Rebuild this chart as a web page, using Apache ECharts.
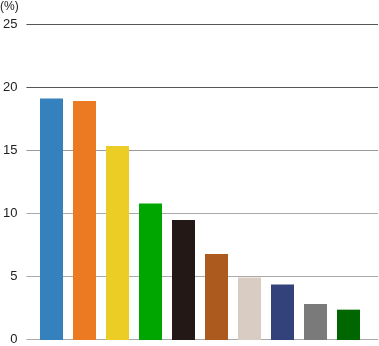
<!DOCTYPE html>
<html>
<head>
<meta charset="utf-8">
<script src="https://cdn.jsdelivr.net/npm/echarts@6/dist/echarts.min.js"></script>
<style>html,body{margin:0;padding:0;background:#fff}#c{width:379px;height:346px}</style>
</head>
<body>
<div id="c"></div>
<script>
var categories = ['1', '2', '3', '4', '5', '6', '7', '8', '9', '10'];
var values = [19.1, 18.9, 15.35, 10.8, 9.5, 6.8, 4.95, 4.4, 2.85, 2.4];
var barColors = ['#3581bd', '#ec7a22', '#ebcd26', '#00a600', '#231815', '#ad5a1e', '#d9ccc2', '#33427b', '#7a7a7a', '#006600'];
var yTicks = [0, 5, 10, 15, 20, 25];
var gridColors = ['#aaaaaa', '#aaaaaa', '#aaaaaa', '#999999', '#555555', '#555555'];

var chart = echarts.init(document.getElementById('c'), null, {renderer: 'canvas'});
chart.setOption({
  animation: false,
  graphic: [{type: 'text', left: 0, top: 1, style: {text: '(%)', font: '12px "Liberation Sans", Arial, sans-serif', fill: '#222'}}],
  grid: [
    {left: 24, right: 1, top: 24, bottom: 6},
    {left: 35, right: 14, top: 24, bottom: 6}
  ],
  xAxis: [
    {gridIndex: 0, type: 'category', data: categories, show: false},
    {gridIndex: 1, type: 'category', data: categories, show: false}
  ],
  yAxis: [
    {gridIndex: 0, type: 'value', min: yTicks[0], max: yTicks[yTicks.length - 1], interval: 5,
     axisLine: {show: false}, axisTick: {show: false},
     axisLabel: {margin: 9, color: '#222', fontSize: 13, fontFamily: '"Liberation Sans", Arial, sans-serif'},
     splitLine: {lineStyle: {color: gridColors, width: 1}}},
    {gridIndex: 1, type: 'value', min: yTicks[0], max: yTicks[yTicks.length - 1], interval: 5, show: false, splitLine: {show: false}}
  ],
  series: [{
    type: 'bar', xAxisIndex: 1, yAxisIndex: 1, barWidth: 23,
    data: values.map(function (v, i) { return {value: v, itemStyle: {color: barColors[i]}}; })
  }]
});
</script>
</body>
</html>
